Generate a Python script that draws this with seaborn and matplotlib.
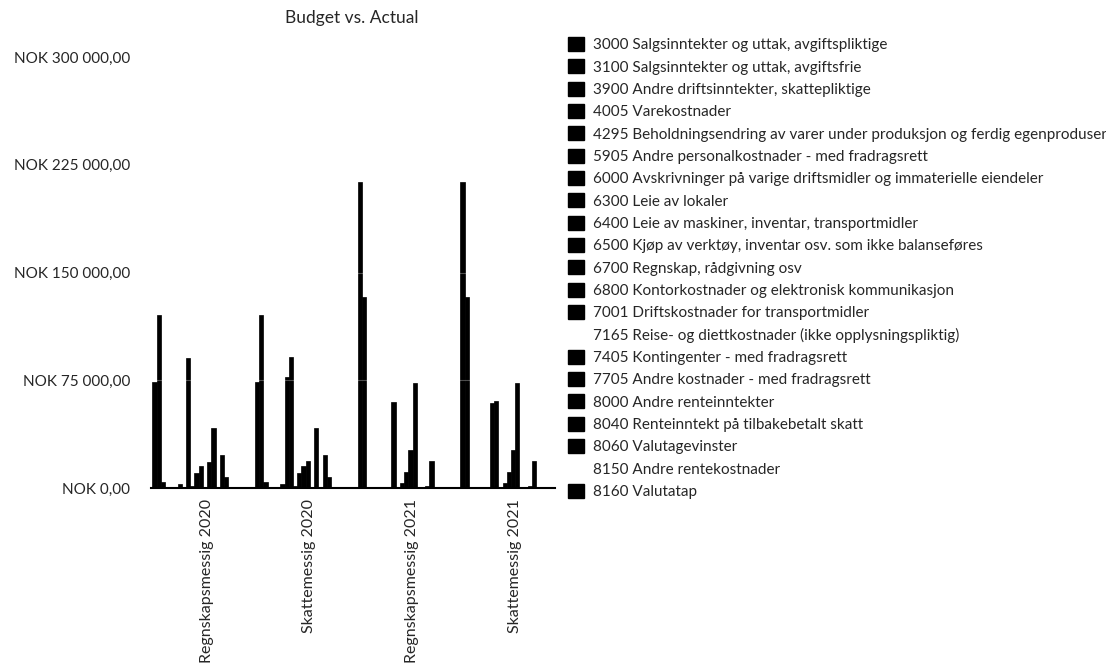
import numpy as np
import pandas as pd
import matplotlib
matplotlib.use("Agg")
import matplotlib.pyplot as plt
import matplotlib.transforms as mtransforms
from matplotlib.patches import Patch
from matplotlib.ticker import FuncFormatter, MultipleLocator
import seaborn as sns

# accounts (series) in legend order
accounts = [
    "3000 Salgsinntekter og uttak, avgiftspliktige",
    "3100 Salgsinntekter og uttak, avgiftsfrie",
    "3900 Andre driftsinntekter, skattepliktige",
    "4005 Varekostnader",
    "4295 Beholdningsendring av varer under produksjon og ferdig egenproduserte varer",
    "5905 Andre personalkostnader - med fradragsrett",
    "6000 Avskrivninger på varige driftsmidler og immaterielle eiendeler",
    "6300 Leie av lokaler",
    "6400 Leie av maskiner, inventar, transportmidler",
    "6500 Kjøp av verktøy, inventar osv. som ikke balanseføres",
    "6700 Regnskap, rådgivning osv",
    "6800 Kontorkostnader og elektronisk kommunikasjon",
    "7001 Driftskostnader for transportmidler",
    "7165 Reise- og diettkostnader (ikke opplysningspliktig)",
    "7405 Kontingenter - med fradragsrett",
    "7705 Andre kostnader - med fradragsrett",
    "8000 Andre renteinntekter",
    "8040 Renteinntekt på tilbakebetalt skatt",
    "8060 Valutagevinster",
    "8150 Andre rentekostnader",
    "8160 Valutatap",
]
no_colour = ["7165", "8150"]

groups = ["Regnskapsmessig 2020", "Skattemessig 2020",
          "Regnskapsmessig 2021", "Skattemessig 2021"]

# values per account (same order as accounts)
regnskap_2020 = [74000, 120500, 4400, 0, 0, 0, 3000, 0, 90700, 1600, 10400,
                 15300, 0, 18300, 42000, 0, 23000, 7700, 0, 0, 0]
skatt_2020 = [74000, 120500, 4400, 0, 0, 0, 3000, 77500, 91000, 1600, 10400,
              15300, 18600, 0, 42000, 0, 23000, 7700, 0, 0, 0]
regnskap_2021 = [213300, 133200, 0, 0, 0, 0, 0, 0, 60100, 0, 3300,
                 10900, 26500, 72900, 0, 0, 1400, 18800, 0, 0, 0]
skatt_2021 = [213300, 133200, 0, 0, 0, 0, 0, 59000, 60600, 0, 3300,
              10900, 26500, 72900, 0, 0, 1400, 18800, 0, 0, 0]

rows = []
for g, vals in zip(groups, [regnskap_2020, skatt_2020, regnskap_2021, skatt_2021]):
    for acc, v in zip(accounts, vals):
        rows.append({"group": g, "account": acc, "value": v})
df = pd.DataFrame(rows)

sns.set_style("white")
plt.rcParams["font.family"] = ["Lato", "DejaVu Sans"]

fig = plt.figure(figsize=(11.06, 6.69), dpi=100)
ax = fig.add_axes([151 / 1106, 1 - 488 / 669, 404 / 1106, 431 / 669])

sns.barplot(data=df, x="group", y="value", hue="account", order=groups,
            hue_order=accounts, palette=["black"] * len(accounts),
            saturation=1, width=0.863, errorbar=None, edgecolor="black",
            linewidth=0.5, legend=False, ax=ax)

ax.set_xlim(-0.444, 3.49)
ax.set_ylim(0, 300000)
ax.yaxis.set_major_locator(MultipleLocator(75000))


def nok(v, pos):
    s = f"{v:,.2f}".replace(",", " ").replace(".", ",")
    return f"NOK {s}"


ax.yaxis.set_major_formatter(FuncFormatter(nok))
ax.set_xlabel("")
ax.set_ylabel("")
ax.tick_params(axis="y", length=0, pad=15, labelsize=11)
ax.tick_params(axis="x", length=0, pad=8, labelsize=11.5, labelrotation=90)

# shift category labels slightly to the right, like the original
offset = mtransforms.ScaledTranslation(0.1, 0, fig.dpi_scale_trans)
for lbl in ax.get_xticklabels():
    lbl.set_transform(lbl.get_transform() + offset)

for side in ["left", "right", "top"]:
    ax.spines[side].set_visible(False)
ax.spines["bottom"].set_color("black")
ax.spines["bottom"].set_linewidth(1.5)
ax.spines["bottom"].set_zorder(4)

# faint white grid lines over the bars
ax.grid(axis="y", color="white", linewidth=0.8, alpha=0.3)
ax.set_axisbelow(False)

fig.text(352 / 1106, 1 - 18 / 669, "Budget vs. Actual", ha="center",
         va="center", fontsize=12.5)

handles = []
for acc in accounts:
    if acc.split()[0] in no_colour:
        handles.append(Patch(facecolor="none", edgecolor="none"))
    else:
        handles.append(Patch(facecolor="black", edgecolor="black"))
fig.legend(handles, accounts, loc="upper left",
           bbox_to_anchor=(568 / 1106, 1 - 37 / 669), frameon=False,
           borderaxespad=0, borderpad=0, fontsize=11, handlelength=1.05,
           handleheight=1.05, handletextpad=0.6, labelspacing=0.46)

plt.savefig("out.png", dpi=100)
